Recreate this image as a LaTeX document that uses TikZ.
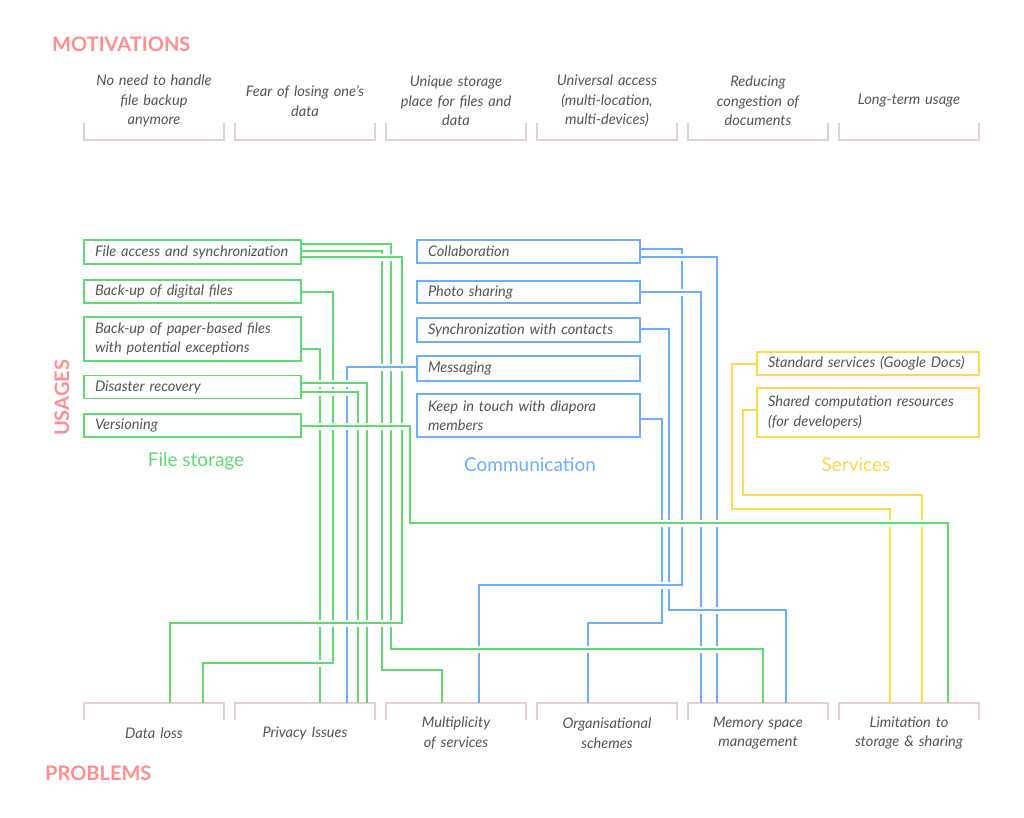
\documentclass[tikz,border=0pt]{standalone}
\usepackage{fontspec}
\setmainfont{Lato}
\definecolor{gr}{RGB}{94,219,110}
\definecolor{bl}{RGB}{106,174,255}
\definecolor{ye}{RGB}{255,216,74}
\definecolor{sal}{RGB}{255,143,143}
\definecolor{brk}{RGB}{229,207,207}
\definecolor{tx}{RGB}{85,85,85}
\newcommand\hseg[3]{\draw[white,line width=7pt,shorten <=4pt,shorten >=4pt] #2 -- #3; \draw[#1] #2 -- #3;}
\tikzset{
  ubox/.style={draw, line width=1.8pt, inner xsep=11pt, inner ysep=0pt, align=left, text=tx,
     font=\itshape\fontsize{14.6}{19.5}\selectfont},
  gbox/.style={ubox, draw=gr, text width=195pt, minimum height=#1},
  bbox/.style={ubox, draw=bl, text width=201pt, minimum height=#1},
  ybox/.style={ubox, draw=ye, text width=200pt, minimum height=#1},
  brnode/.style={minimum width=140pt, minimum height=17pt, inner sep=0pt},
  brline/.style={draw=brk, line width=1.8pt},
  ctext/.style={align=center, text=tx, text width=140pt, font=\itshape\fontsize{14.6}{19.5}\selectfont},
  head/.style={text=sal, font=\bfseries\fontsize{20}{24}\selectfont},
  group/.style={font=\fontsize{19}{22}\selectfont},
  gl/.style={draw=gr, line width=1.6pt},
  bll/.style={draw=bl, line width=1.6pt},
  yl/.style={draw=ye, line width=1.6pt},
}
\begin{document}
\begin{tikzpicture}[x=1pt,y=-1pt]
\useasboundingbox (0,0) rectangle (1024,818);
\fill[white] (0,0) rectangle (1024,818);

% headings
\node[head, anchor=west, inner sep=0pt] (hmot) at (52,44) {MOTIVATIONS};
\node[head, anchor=west, inner sep=0pt] (hprob) at (45,773) {PROBLEMS};
\node[head, rotate=90, inner sep=0pt] (husa) at (62,398) {USAGES};

% motivations
\foreach \i/\t in {0/{No need to handle\\file backup\\anymore},1/{Fear of losing one’s\\data},2/{Unique storage\\place for files and\\data},3/{Universal access\\(multi-location,\\multi-devices)},4/{Reducing\\congestion of\\documents},5/{Long-term usage}}{
  \node[brnode] (m\i) at (154+151*\i,131.5) {};
  \draw[brline] (m\i.north west) -- (m\i.south west) -- (m\i.south east) -- (m\i.north east);
  \node[ctext] (mt\i) at (154+151*\i,101) {\t};
}

% problems
\foreach \n/\i/\t in {pDL/0/{Data loss},pPI/1/{Privacy Issues},pMS/2/{Multiplicity\\of services},pOS/3/{Organisational\\schemes},pMM/4/{Memory space\\management},pLS/5/{Limitation to\\storage \& sharing}}{
  \node[brnode] (\n) at (154+151*\i,711.5) {};
  \draw[brline] (\n.south west) -- (\n.north west) -- (\n.north east) -- (\n.south east);
  \node[ctext] (\n t) at (154+151*\i,733) {\t};
}

% green boxes
\node[gbox=24pt] (fa) at (192.5,252) {File access and synchronization};
\node[gbox=23pt] (bd) at (192.5,291.5) {Back-up of digital files};
\node[gbox=44pt] (bp) at (192.5,339) {Back-up of paper-based files\\with potential exceptions};
\node[gbox=23pt] (dr) at (192.5,387) {Disaster recovery};
\node[gbox=23pt] (ve) at (192.5,425.5) {Versioning};
\node[group, text=gr] (gfs) at (196,461) {File storage};

% blue boxes
\node[bbox=23pt] (co) at (528.5,251.5) {Collaboration};
\node[bbox=22pt] (ph) at (528.5,292) {Photo sharing};
\node[bbox=24pt] (sy) at (528.5,330) {Synchronization with contacts};
\node[bbox=25pt] (me) at (528.5,368.5) {Messaging};
\node[bbox=43pt] (kt) at (528.5,415.5) {Keep in touch with diapora\\members};
\node[group, text=bl] (gco) at (530,465) {Communication};

% yellow boxes
\node[ybox=23pt] (ss) at (868,363.5) {Standard services (Google Docs)};
\node[ybox=49pt] (sc) at (868,412.5) {Shared computation resources\\(for developers)};
\node[group, text=ye] (gse) at (856,465) {Services};

% connectors (full paths)
\draw[gl] (fa.east |- 0,244) -- (391,244) -- (391,649) -- (763,649) -- (763,0 |- pMM.north);
\draw[gl] (fa.east |- 0,251) -- (382,251) -- (382,670) -- (442,670) -- (442,0 |- pMS.north);
\draw[gl] (fa.east |- 0,257) -- (402,257) -- (402,623) -- (170,623) -- (170,0 |- pDL.north);
\draw[gl] (bd.east |- 0,292) -- (333,292) -- (333,663) -- (203,663) -- (203,0 |- pDL.north);
\draw[gl] (bp.east |- 0,349) -- (320,349) -- (320,0 |- pPI.north);
\draw[gl] (dr.east |- 0,383) -- (367,383) -- (367,0 |- pPI.north);
\draw[gl] (dr.east |- 0,392) -- (358,392) -- (358,0 |- pPI.north);
\draw[gl] (ve.east |- 0,426) -- (410,426) -- (410,523) -- (948,523) -- (948,0 |- pLS.north);
\draw[bll] (me.west |- 0,367) -- (347,367) -- (347,0 |- pPI.north);
\draw[bll] (co.east |- 0,249) -- (682,249) -- (682,585) -- (479,585) -- (479,0 |- pMS.north);
\draw[bll] (co.east |- 0,257) -- (717,257) -- (717,0 |- pMM.north);
\draw[bll] (ph.east |- 0,292) -- (701,292) -- (701,0 |- pMM.north);
\draw[bll] (sy.east |- 0,329) -- (669,329) -- (669,610) -- (786,610) -- (786,0 |- pMM.north);
\draw[bll] (kt.east |- 0,419) -- (662,419) -- (662,623) -- (588,623) -- (588,0 |- pOS.north);
\draw[yl] (ss.west |- 0,364) -- (732,364) -- (732,509) -- (890,509) -- (890,0 |- pLS.north);
\draw[yl] (sc.west |- 0,410) -- (743,410) -- (743,495) -- (922,495) -- (922,0 |- pLS.north);

% horizontal segments on top, with white halo
\hseg{gl}{(fa.east |- 0,244)}{(391,244)}
\hseg{gl}{(391,649)}{(763,649)}
\hseg{gl}{(fa.east |- 0,251)}{(382,251)}
\hseg{gl}{(382,670)}{(442,670)}
\hseg{gl}{(fa.east |- 0,257)}{(402,257)}
\hseg{gl}{(402,623)}{(170,623)}
\hseg{gl}{(bd.east |- 0,292)}{(333,292)}
\hseg{gl}{(333,663)}{(203,663)}
\hseg{gl}{(bp.east |- 0,349)}{(320,349)}
\hseg{gl}{(dr.east |- 0,383)}{(367,383)}
\hseg{gl}{(dr.east |- 0,392)}{(358,392)}
\hseg{gl}{(ve.east |- 0,426)}{(410,426)}
\hseg{gl}{(410,523)}{(948,523)}
\hseg{bll}{(me.west |- 0,367)}{(347,367)}
\hseg{bll}{(co.east |- 0,249)}{(682,249)}
\hseg{bll}{(682,585)}{(479,585)}
\hseg{bll}{(co.east |- 0,257)}{(717,257)}
\hseg{bll}{(ph.east |- 0,292)}{(701,292)}
\hseg{bll}{(sy.east |- 0,329)}{(669,329)}
\hseg{bll}{(669,610)}{(786,610)}
\hseg{bll}{(kt.east |- 0,419)}{(662,419)}
\hseg{bll}{(662,623)}{(588,623)}
\hseg{yl}{(ss.west |- 0,364)}{(732,364)}
\hseg{yl}{(732,509)}{(890,509)}
\hseg{yl}{(sc.west |- 0,410)}{(743,410)}
\hseg{yl}{(743,495)}{(922,495)}
\end{tikzpicture}
\end{document}
